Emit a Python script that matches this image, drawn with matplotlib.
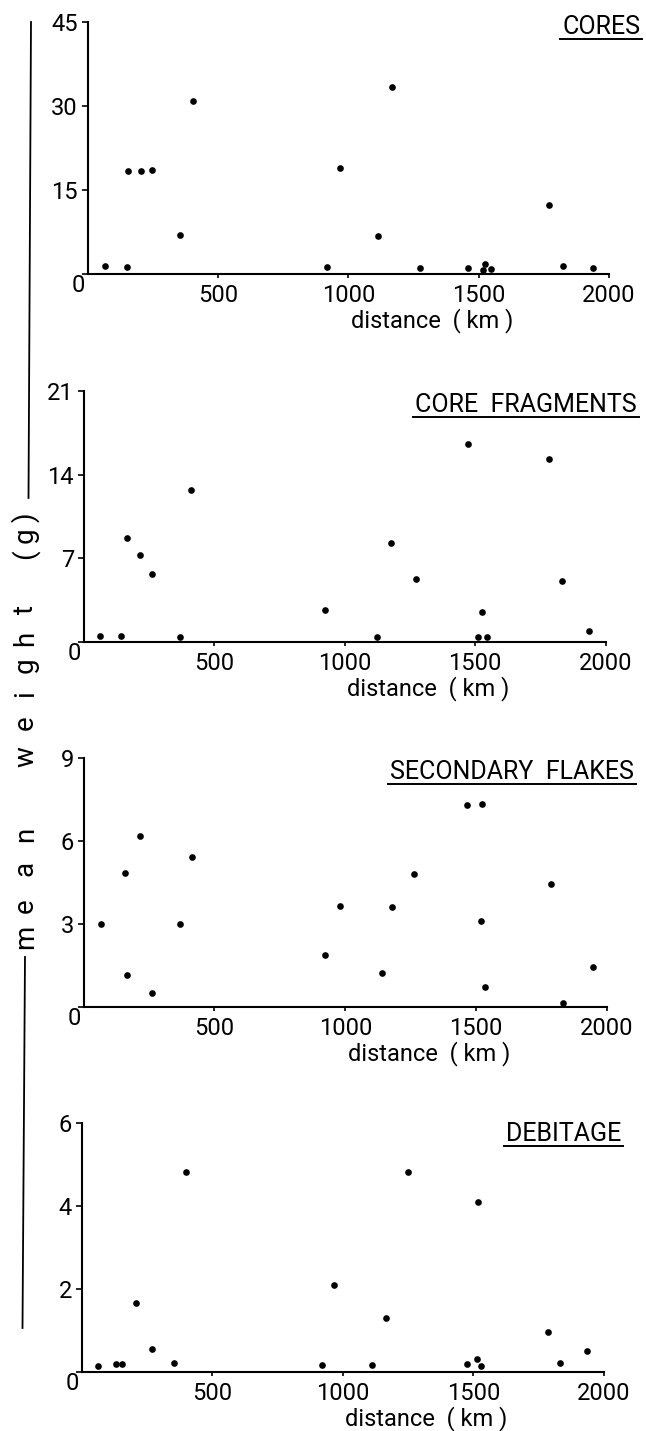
import matplotlib
matplotlib.use("Agg")
import matplotlib.pyplot as plt
from matplotlib.lines import Line2D
from matplotlib.transforms import ScaledTranslation, IdentityTransform, offset_copy

plt.rcParams['font.family'] = ['Roboto', 'DejaVu Sans']

W, H, DPI = 646, 1431, 100

# ---- data: distance from source (km) and mean weight (g) ----
cores_km = [66, 153, 156, 205, 249, 354, 404, 920, 969, 1113, 1166, 1275,
            1460, 1517, 1523, 1547, 1768, 1822, 1938]
cores_g = [1.5, 1.3, 18.4, 18.4, 18.6, 7.0, 30.9, 1.2, 18.9, 6.7, 33.4, 1.1,
           1.1, 0.8, 1.8, 0.9, 12.3, 1.4, 1.0]

frag_km = [63, 145, 167, 218, 262, 368, 410, 923, 1125, 1176, 1274, 1471,
           1511, 1525, 1547, 1782, 1833, 1937]
frag_g = [0.5, 0.5, 8.7, 7.3, 5.7, 0.4, 12.7, 2.7, 0.4, 8.3, 5.3, 16.6,
          0.4, 2.5, 0.4, 15.3, 5.1, 0.9]

flake_km = [68, 157, 167, 217, 261, 367, 413, 924, 980, 1140, 1178, 1263,
            1465, 1521, 1520, 1534, 1786, 1833, 1946]
flake_g = [3.0, 4.85, 1.17, 6.18, 0.5, 2.99, 5.41, 1.89, 3.66, 1.24, 3.63, 4.81,
           7.30, 7.33, 3.12, 0.72, 4.43, 0.13, 1.44]

debit_km = [65, 131, 156, 210, 271, 353, 400, 920, 968, 1113, 1165, 1250,
            1477, 1515, 1518, 1529, 1786, 1831, 1934]
debit_g = [0.15, 0.19, 0.19, 1.66, 0.56, 0.22, 4.82, 0.16, 2.09, 0.17, 1.30, 4.82,
           0.19, 0.31, 4.10, 0.14, 0.97, 0.21, 0.50]

panel_titles = ["CORES", "CORE  FRAGMENTS", "SECONDARY  FLAKES", "DEBITAGE"]
y_ticks = [[0, 15, 30, 45], [0, 7, 14, 21], [0, 3, 6, 9], [0, 2, 4, 6]]
x_ticks = [500, 1000, 1500, 2000]
x_label = "distance  ( km )"
y_label = "mean weight (g)"

series = [(cores_km, cores_g), (frag_km, frag_g), (flake_km, flake_g), (debit_km, debit_g)]

# ---- layout (pixels from top-left) ----
boxes = [(87.5, 609, 22, 274), (83.6, 605.6, 391, 642),
         (83.6, 607, 758, 1007), (81.5, 604, 1122.5, 1372)]
title_right = [640, 637, 634, 621]
title_base = [34, 412, 779, 1141]

fig = plt.figure(figsize=(W / DPI, H / DPI), dpi=DPI)
fig.patch.set_facecolor("white")

titles = []
for i, ((l, r, t, b), (xs, ys)) in enumerate(zip(boxes, series)):
    ax = fig.add_axes([l / W, 1 - b / H, (r - l) / W, (b - t) / H])
    ax.plot(xs, ys, "o", ms=4.8, mew=0, color="black", clip_on=False, zorder=3)
    ax.set_xlim(0, 2000)
    ax.set_ylim(0, y_ticks[i][-1])
    ax.set_xticks(x_ticks)
    ax.set_yticks(y_ticks[i])
    ax.set_yticklabels([str(v) for v in y_ticks[i]])
    for s in ("top", "right"):
        ax.spines[s].set_visible(False)
    for s in ("left", "bottom"):
        ax.spines[s].set_linewidth(1.5)
    ax.tick_params(axis="y", direction="out", length=4.5, width=1.2, pad=2.5,
                   labelsize=17)
    ax.tick_params(axis="x", direction="out", length=3, width=1.2, pad=4,
                   labelsize=17)
    # the zero label sits at the corner, shared by both axes
    zero = ax.get_yticklabels()[0]
    zero.set_transform(zero.get_transform() +
                       ScaledTranslation(7 / DPI, -9 / DPI, fig.dpi_scale_trans))
    ax.text(0.66, 0, x_label, fontsize=17, ha="center", va="center",
            transform=offset_copy(ax.transAxes, fig=fig, y=-47, units="dots"))
    tt = fig.text(title_right[i] / W, 1 - title_base[i] / H, panel_titles[i],
                  fontsize=18, ha="right", va="baseline")
    titles.append((tt, title_base[i]))

# shared vertical axis label, letter-spaced
label_pos = [937, 906, 868, 834, 757, 723, 694, 665, 638, 610, 554, 535, 517]
letters = [c for c in y_label if c != " "]
for c, yp in zip(letters, label_pos):
    fig.text(33 / W, 1 - yp / H, c, fontsize=20, rotation=90,
             rotation_mode="anchor", ha="center", va="baseline")

fig.add_artist(Line2D([31, 28.5], [H - 22, H - 498], transform=IdentityTransform(),
                      lw=1.3, color="black"))
fig.add_artist(Line2D([25, 22.5], [H - 957, H - 1328], transform=IdentityTransform(),
                      lw=1.3, color="black"))

# underline each panel title
fig.canvas.draw()
renderer = fig.canvas.get_renderer()
for tt, base in titles:
    bb = tt.get_window_extent(renderer)
    y = H - (base + 4.5)
    fig.add_artist(Line2D([bb.x0 - 2, bb.x1 + 2], [y, y], transform=IdentityTransform(),
                          lw=1.4, color="black"))

fig.savefig("out.png", dpi=DPI, facecolor="white")
